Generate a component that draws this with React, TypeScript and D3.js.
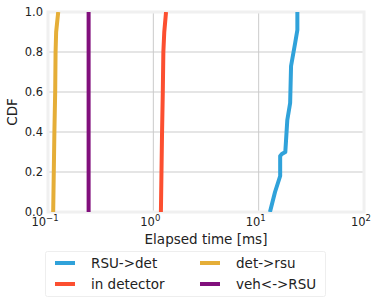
import React from "react";
import * as d3 from "d3";

const seriesNames = ["RSU->det", "in detector", "det->rsu", "veh<->RSU"];
const seriesColors = ["#30a2da", "#fc4f30", "#e5ae38", "#810f7c"];

const rsuDetMs = [12.8, 14.3, 16.0, 16.0, 16.6, 17.9, 18.2, 18.7, 19.9, 20.3, 22.2, 23.3, 23.3];
const rsuDetCdf = [0.0, 0.1, 0.18, 0.28, 0.29, 0.3, 0.36, 0.46, 0.545, 0.73, 0.845, 0.91, 1.0];

const inDetMs = [1.18, 1.21, 1.23, 1.245, 1.27, 1.32];
const inDetCdf = [0.0, 0.4, 0.6, 0.8, 0.9, 1.0];

const detRsuMs = [0.112, 0.115, 0.117, 0.118, 0.1195, 0.125];
const detRsuCdf = [0.0, 0.4, 0.6, 0.8, 0.9, 1.0];

const vehRsuMs = [0.243, 0.243];
const vehRsuCdf = [0.0, 1.0];

const xTickExps = [-1, 0, 1, 2];
const yTicks = [0, 0.2, 0.4, 0.6, 0.8, 1.0];

const FONT = "'DejaVu Sans', sans-serif";

export default function App() {
  const left = 48, right = 364, top = 12, bottom = 212;
  const x = d3.scaleLog().domain([0.1, 100]).range([left, right]);
  const y = d3.scaleLinear().domain([0, 1]).range([bottom, top]);

  const series = [
    { xs: rsuDetMs, ys: rsuDetCdf },
    { xs: inDetMs, ys: inDetCdf },
    { xs: detRsuMs, ys: detRsuCdf },
    { xs: vehRsuMs, ys: vehRsuCdf },
  ];

  const line = d3
    .line<[number, number]>()
    .x((d) => x(d[0]))
    .y((d) => y(d[1]));

  const legendItems = [
    { i: 0, col: 0, row: 0 },
    { i: 1, col: 0, row: 1 },
    { i: 2, col: 1, row: 0 },
    { i: 3, col: 1, row: 1 },
  ];

  return (
    <svg
      width={382}
      height={304}
      style={{ position: "absolute", left: 0, top: 0, background: "#fff" }}
      fontFamily={FONT}
    >
      <rect x={0} y={0} width={382} height={304} fill="#fff" />
      {/* grid */}
      {xTickExps.map((e) => (
        <line key={"gx" + e} x1={x(Math.pow(10, e))} x2={x(Math.pow(10, e))} y1={top} y2={bottom} stroke="#cbcbcb" strokeWidth={1} />
      ))}
      {yTicks.map((t) => (
        <line key={"gy" + t} x1={left} x2={right} y1={y(t)} y2={y(t)} stroke="#cbcbcb" strokeWidth={1} />
      ))}
      {/* frame */}
      <rect x={left} y={top} width={right - left} height={bottom - top} fill="none" stroke="#f0f0f0" strokeWidth={3} />
      {/* lines */}
      <defs>
        <clipPath id="plotclip">
          <rect x={left} y={top} width={right - left} height={bottom - top} />
        </clipPath>
      </defs>
      <g clipPath="url(#plotclip)">
        {series.map((s, i) => (
          <path
            key={i}
            d={line(s.xs.map((v, j) => [v, s.ys[j]] as [number, number])) || ""}
            fill="none"
            stroke={seriesColors[i]}
            strokeWidth={4}
            strokeLinejoin="round"
          />
        ))}
      </g>
      {/* y ticks */}
      {yTicks.map((t) => (
        <text key={"yt" + t} x={43} y={y(t) + 4} textAnchor="end" fontSize={11.5} fill="#222">
          {t.toFixed(1)}
        </text>
      ))}
      {/* x ticks */}
      {xTickExps.map((e) => (
        <text key={"xt" + e} x={x(Math.pow(10, e)) - 3} y={226} textAnchor="middle" fontSize={11.5} fill="#222">
          10
          <tspan fontSize={8.5} dy={-5}>
            {e === -1 ? "\u22121" : String(e)}
          </tspan>
        </text>
      ))}
      {/* axis labels */}
      <text x={206} y={244} textAnchor="middle" fontSize={13.5} fill="#222">
        Elapsed time [ms]
      </text>
      <text transform={`translate(17,112) rotate(-90)`} textAnchor="middle" fontSize={13.5} fill="#222">
        CDF
      </text>
      {/* legend */}
      <rect x={45.5} y={251.5} width={280} height={45} rx={2} fill="#fff" stroke="#eeeeee" strokeWidth={1} />
      {legendItems.map(({ i, col, row }) => {
        const hx = 55 + col * 145;
        const hy = 263 + row * 21;
        return (
          <g key={"lg" + i}>
            <line x1={hx} x2={hx + 20} y1={hy} y2={hy} stroke={seriesColors[i]} strokeWidth={4} />
            <text x={hx + 36} y={hy + 5} fontSize={13.5} fill="#222">
              {seriesNames[i]}
            </text>
          </g>
        );
      })}
    </svg>
  );
}
